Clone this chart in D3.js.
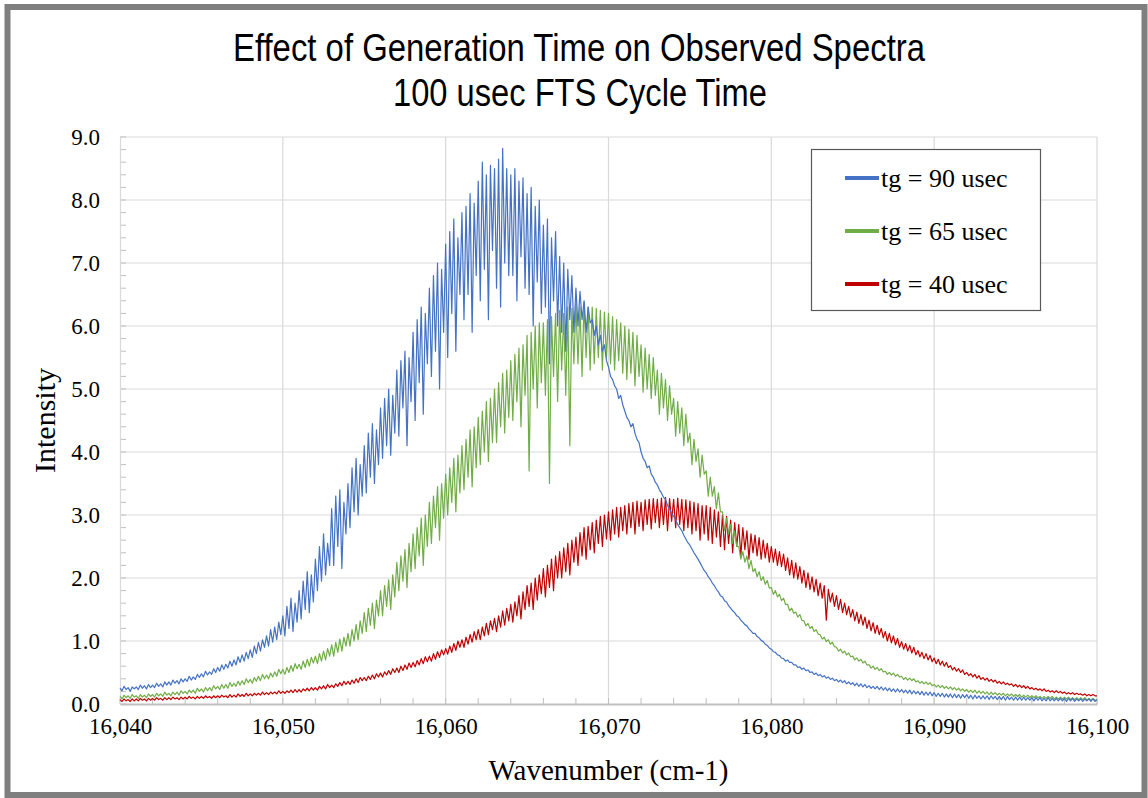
<!DOCTYPE html>
<html>
<head>
<meta charset="utf-8">
<script src="https://cdn.jsdelivr.net/npm/d3@7"></script>
<style>
  body { margin: 0; background: #fff; }
  svg { display: block; }
</style>
</head>
<body>
<script>
// wavenumber grid, 0.125 cm-1 steps from 16,040 to 16,100
var waveStart = 16040, waveStep = 0.125;
var xTicks = [16040, 16050, 16060, 16070, 16080, 16090, 16100];
var yTicks = [0, 1, 2, 3, 4, 5, 6, 7, 8, 9];
var seriesNames = ["tg = 90 usec", "tg = 65 usec", "tg = 40 usec"];
var seriesColors = ["#4472c4", "#70ad47", "#c00000"];

// tg = 90 usec, one row per cm-1
var blue = [
  .25,.21,.28,.23,.26,.20,.27,.24,
  .27,.23,.30,.25,.29,.24,.31,.26,
  .30,.26,.33,.28,.32,.27,.35,.30,
  .35,.30,.38,.33,.37,.32,.40,.35,
  .40,.36,.44,.38,.43,.39,.47,.42,
  .48,.43,.52,.46,.51,.47,.56,.50,
  .58,.52,.62,.55,.63,.57,.68,.60,
  .70,.62,.75,.66,.78,.68,.82,.72,
  .86,.74,.92,.80,.98,.84,1.02,.90,
  1.08,.92,1.18,.98,1.22,1.02,1.30,1.10,
  1.40,1.08,1.55,1.20,1.68,1.15,1.60,1.30,
  1.80,1.35,1.95,1.50,2.10,1.45,2.05,1.62,
  2.30,1.80,2.50,1.95,2.70,2.05,2.55,2.20,
  3.10,2.20,3.30,2.50,3.40,2.15,3.20,2.70,
  3.50,2.80,3.75,3.05,3.90,3.00,3.80,3.30,
  4.10,3.35,4.30,3.60,4.45,3.50,4.35,3.80,
  4.70,3.90,4.85,4.10,5.00,3.95,4.90,4.30,
  5.30,4.25,5.45,4.70,5.60,4.10,5.50,4.80,
  5.90,4.50,6.10,5.10,6.30,4.60,6.20,5.40,
  6.60,5.20,6.80,5.60,7.00,5.00,6.90,5.90,
  7.30,5.50,7.50,6.20,7.70,5.60,7.40,6.50,
  7.80,6.10,7.90,6.50,8.10,5.90,7.95,6.80,
  8.30,6.40,8.60,6.90,8.40,6.10,8.55,7.20,
  8.50,6.60,8.65,6.30,8.82,7.00,8.50,6.80,
  8.40,6.80,8.50,6.40,8.30,7.10,8.35,6.60,
  8.10,6.50,8.20,6.00,7.90,6.70,8.00,6.20,
  7.60,6.30,7.70,5.40,7.40,6.40,7.50,6.00,
  7.10,5.90,7.00,5.60,6.90,6.10,6.80,5.90,
  6.60,6.00,6.55,6.10,6.40,5.90,6.30,6.05,
  6.10,5.85,6.00,5.70,5.85,5.60,5.70,5.45,
  5.35,5.20,5.15,5.05,5.00,4.85,4.90,4.75,
  4.65,4.55,4.50,4.40,4.45,4.30,4.20,4.15,
  4.00,3.90,3.85,3.75,3.78,3.65,3.60,3.52,
  3.48,3.40,3.35,3.28,3.25,3.15,3.10,3.02,
  2.98,2.92,2.85,2.80,2.75,2.68,2.62,2.56,
  2.52,2.46,2.40,2.35,2.30,2.24,2.18,2.12,
  2.08,2.02,1.98,1.92,1.88,1.82,1.78,1.72,
  1.70,1.64,1.62,1.56,1.52,1.48,1.45,1.40,
  1.38,1.33,1.30,1.26,1.24,1.19,1.16,1.12,
  1.12,1.07,1.05,1.01,0.99,0.95,0.93,0.89,
  0.87,0.83,0.82,0.78,0.77,0.73,0.72,0.68,
  0.70,0.66,0.66,0.62,0.62,0.58,0.59,0.55,
  0.57,0.53,0.54,0.50,0.51,0.47,0.49,0.45,
  0.47,0.43,0.45,0.41,0.43,0.39,0.41,0.37,
  0.39,0.35,0.38,0.34,0.37,0.32,0.35,0.31,
  0.34,0.29,0.33,0.28,0.32,0.27,0.31,0.26,
  0.29,0.25,0.28,0.24,0.28,0.23,0.27,0.22,
  0.26,0.21,0.25,0.20,0.24,0.19,0.24,0.19,
  0.23,0.18,0.22,0.17,0.22,0.16,0.21,0.16,
  0.20,0.15,0.20,0.14,0.19,0.14,0.19,0.13,
  0.18,0.12,0.17,0.12,0.17,0.11,0.16,0.11,
  0.16,0.10,0.16,0.10,0.15,0.09,0.15,0.10,
  0.15,0.09,0.14,0.08,0.14,0.09,0.13,0.08,
  0.13,0.08,0.13,0.07,0.13,0.08,0.12,0.07,
  0.12,0.07,0.12,0.06,0.12,0.07,0.11,0.06,
  0.11,0.06,0.11,0.06,0.11,0.06,0.10,0.06,
  0.10,0.05,0.10,0.06,0.10,0.05,0.09,0.05,
  0.10,0.05,0.09,0.05,0.09,0.05,0.09,0.05,
  0.09,0.04,0.09,0.05,0.09,0.04,0.08,0.05,
  0.08,0.04,0.08,0.05,0.08,0.04,0.08,0.04,
  0.07
];

// tg = 65 usec
var green = [
  .12,.08,.14,.10,.13,.09,.15,.11,
  .13,.09,.15,.11,.14,.10,.16,.12,
  .15,.11,.17,.13,.16,.12,.19,.14,
  .17,.13,.19,.15,.19,.14,.21,.17,
  .20,.16,.22,.18,.22,.17,.25,.20,
  .24,.19,.26,.21,.26,.21,.29,.24,
  .28,.23,.31,.25,.31,.25,.34,.28,
  .33,.28,.36,.30,.37,.31,.40,.34,
  .39,.33,.42,.36,.44,.37,.47,.40,
  .46,.40,.49,.43,.51,.44,.55,.48,
  .55,.47,.58,.50,.61,.52,.64,.56,
  .63,.55,.68,.58,.71,.60,.74,.65,
  .76,.64,.80,.68,.84,.70,.88,.76,
  .94,.76,.98,.82,1.03,.84,1.06,.92,
  1.12,.92,1.18,1.00,1.26,1.02,1.32,1.12,
  1.45,1.15,1.52,1.25,1.60,1.20,1.65,1.40,
  1.80,1.40,1.88,1.55,1.97,1.50,2.05,1.70,
  2.25,1.80,2.35,1.95,2.45,1.85,2.55,2.10,
  2.70,2.15,2.80,2.35,2.95,2.20,3.00,2.50,
  3.20,2.55,3.30,2.80,3.45,2.60,3.50,2.95,
  3.65,3.00,3.75,3.20,3.90,3.05,3.95,3.35,
  4.10,3.40,4.20,3.60,4.35,3.45,4.40,3.75,
  4.55,3.80,4.65,4.00,4.80,3.85,4.85,4.15,
  5.00,4.15,5.10,4.40,5.25,4.30,5.30,4.55,
  5.45,4.50,5.55,4.80,5.65,4.40,5.70,4.90,
  5.85,3.70,5.90,5.00,6.00,4.70,6.05,5.10,
  6.05,4.90,6.10,3.50,6.15,5.20,6.20,4.80,
  6.25,5.30,6.20,4.90,6.30,4.10,6.28,5.40,
  6.35,5.40,6.30,5.20,6.38,5.50,6.30,5.30,
  6.30,5.40,6.28,5.50,6.25,5.30,6.22,5.50,
  6.20,5.40,6.15,5.30,6.10,5.45,6.05,5.25,
  6.00,5.15,5.95,5.25,5.90,5.05,5.85,5.20,
  5.70,4.95,5.65,5.00,5.55,4.85,5.50,4.90,
  5.30,4.60,5.25,4.70,5.15,4.50,5.05,4.60,
  4.85,4.25,4.80,4.30,4.70,4.10,4.60,4.15,
  4.30,3.80,4.20,3.85,4.05,3.60,3.95,3.65,
  3.70,3.30,3.60,3.30,3.45,3.10,3.35,3.05,
  3.05,2.75,2.95,2.70,2.85,2.55,2.75,2.50,
  2.50,2.30,2.42,2.25,2.35,2.15,2.28,2.10,
  2.15,2.02,2.10,1.96,2.02,1.90,1.96,1.84,
  1.85,1.74,1.80,1.70,1.74,1.64,1.68,1.58,
  1.58,1.48,1.52,1.44,1.46,1.38,1.42,1.33,
  1.32,1.24,1.28,1.20,1.23,1.15,1.18,1.11,
  1.10,1.03,1.06,0.99,1.02,0.95,0.98,0.91,
  0.90,0.84,0.87,0.81,0.84,0.78,0.81,0.75,
  0.76,0.70,0.73,0.68,0.71,0.65,0.68,0.62,
  0.62,0.57,0.60,0.55,0.58,0.53,0.56,0.51,
  0.52,0.47,0.50,0.46,0.49,0.44,0.47,0.43,
  0.44,0.39,0.42,0.38,0.41,0.37,0.40,0.35,
  0.37,0.33,0.36,0.32,0.35,0.31,0.34,0.29,
  0.31,0.27,0.30,0.26,0.29,0.25,0.28,0.24,
  0.27,0.23,0.26,0.22,0.25,0.21,0.24,0.20,
  0.23,0.19,0.22,0.18,0.22,0.17,0.21,0.17,
  0.20,0.16,0.19,0.15,0.19,0.15,0.18,0.14,
  0.17,0.14,0.17,0.13,0.16,0.13,0.16,0.12,
  0.15,0.12,0.15,0.11,0.14,0.11,0.14,0.10,
  0.13,0.10,0.13,0.10,0.12,0.09,0.12,0.09,
  0.12,0.09,0.12,0.08,0.11,0.08,0.11,0.08,
  0.11,0.08,0.11,0.07,0.10,0.07,0.10,0.07,
  0.10,0.07,0.10,0.06,0.09,0.06,0.09,0.06,
  0.06
];

// tg = 40 usec
var red = [
  .07,.04,.08,.05,.07,.04,.08,.05,
  .08,.05,.09,.06,.08,.05,.09,.06,
  .09,.06,.10,.07,.09,.06,.10,.07,
  .10,.07,.11,.08,.10,.07,.11,.08,
  .11,.08,.12,.09,.11,.08,.12,.09,
  .12,.09,.13,.10,.12,.09,.13,.10,
  .13,.10,.14,.11,.13,.10,.15,.11,
  .14,.11,.16,.12,.15,.12,.17,.13,
  .16,.13,.17,.14,.17,.14,.19,.15,
  .18,.15,.19,.16,.19,.16,.21,.17,
  .20,.17,.21,.18,.22,.18,.23,.19,
  .23,.19,.24,.21,.25,.21,.26,.22,
  .26,.22,.28,.24,.29,.24,.31,.26,
  .30,.26,.32,.28,.34,.29,.36,.31,
  .36,.31,.38,.33,.40,.34,.42,.37,
  .42,.37,.44,.39,.46,.40,.48,.43,
  .49,.43,.51,.46,.53,.47,.56,.50,
  .57,.50,.60,.53,.62,.55,.65,.58,
  .66,.59,.69,.62,.72,.64,.75,.67,
  .76,.68,.80,.71,.83,.74,.86,.78,
  .88,.79,.92,.82,.96,.85,1.00,.90,
  1.02,.90,1.06,.95,1.10,.98,1.15,1.02,
  1.18,1.02,1.22,1.08,1.28,1.10,1.32,1.18,
  1.36,1.15,1.40,1.22,1.48,1.25,1.52,1.32,
  1.58,1.30,1.62,1.40,1.72,1.35,1.78,1.50,
  1.88,1.55,1.92,1.50,2.00,1.65,2.05,1.75,
  2.15,1.70,2.20,1.85,2.30,1.80,2.35,2.00,
  2.42,2.00,2.48,2.10,2.55,2.05,2.60,2.25,
  2.65,2.20,2.72,2.35,2.80,2.30,2.82,2.45,
  2.88,2.40,2.92,2.55,2.98,2.50,3.00,2.62,
  3.05,2.60,3.08,2.70,3.12,2.65,3.12,2.75,
  3.15,2.70,3.18,2.80,3.20,2.70,3.22,2.82,
  3.20,2.75,3.24,2.85,3.25,2.78,3.26,2.88,
  3.25,2.80,3.27,2.85,3.28,2.75,3.26,2.90,
  3.25,2.80,3.27,2.85,3.25,2.75,3.24,2.80,
  3.22,2.70,3.20,2.75,3.18,2.60,3.15,2.70,
  3.15,2.60,3.12,2.55,3.08,2.65,3.05,2.50,
  3.00,2.45,2.98,2.55,2.92,2.40,2.88,2.50,
  2.85,2.35,2.80,2.45,2.75,2.30,2.70,2.40,
  2.68,2.35,2.64,2.30,2.60,2.32,2.55,2.25,
  2.50,2.25,2.46,2.20,2.42,2.18,2.38,2.12,
  2.32,2.05,2.28,2.00,2.24,1.98,2.18,1.92,
  2.12,1.85,2.08,1.82,2.02,1.78,1.98,1.72,
  1.92,1.68,1.88,1.33,1.82,1.62,1.76,1.55,
  1.72,1.50,1.66,1.45,1.60,1.42,1.55,1.38,
  1.50,1.32,1.46,1.28,1.42,1.25,1.38,1.20,
  1.33,1.16,1.29,1.12,1.25,1.10,1.20,1.05,
  1.15,1.00,1.12,0.97,1.08,0.94,1.04,0.90,
  0.99,0.87,0.96,0.84,0.93,0.81,0.90,0.78,
  0.85,0.75,0.82,0.72,0.80,0.70,0.77,0.67,
  0.73,0.64,0.71,0.62,0.68,0.60,0.66,0.58,
  0.61,0.54,0.58,0.52,0.56,0.50,0.54,0.47,
  0.50,0.45,0.48,0.43,0.47,0.41,0.45,0.39,
  0.42,0.38,0.41,0.36,0.39,0.35,0.38,0.33,
  0.36,0.32,0.35,0.31,0.33,0.30,0.32,0.28,
  0.31,0.27,0.30,0.26,0.29,0.25,0.28,0.24,
  0.26,0.23,0.25,0.22,0.24,0.21,0.24,0.20,
  0.22,0.19,0.21,0.18,0.21,0.18,0.20,0.17,
  0.19,0.16,0.18,0.16,0.18,0.15,0.17,0.15,
  0.16,0.14,0.16,0.13,0.15,0.13,0.15,0.13,
  0.13
];

var W = 1148, H = 798;
var margin = {top: 137, right: 51, bottom: 94, left: 120};
var width = W - margin.left - margin.right;
var height = H - margin.top - margin.bottom;

var svg = d3.select("body").append("svg")
    .attr("width", W)
    .attr("height", H);

svg.append("rect")
    .attr("x", 0).attr("y", 0).attr("width", W).attr("height", H)
    .style("fill", "#fff");

// outer frame
svg.append("rect")
    .attr("x", 7.5).attr("y", 7).attr("width", W - 11).attr("height", H - 10)
    .style("fill", "none")
    .style("stroke", "#7f7f7f")
    .style("stroke-width", 6);

var xScale = d3.scaleLinear().domain([16040, 16100]).range([0, width]);
var yScale = d3.scaleLinear().domain([0, 9]).range([height, 0]);

var g = svg.append("g")
    .attr("transform", "translate(" + margin.left + "," + margin.top + ")");

// gridlines
g.selectAll("line.hgrid")
    .data(yTicks.slice(1))
    .enter().append("line")
    .attr("class", "hgrid")
    .attr("x1", 0).attr("x2", width)
    .attr("y1", function(d){ return yScale(d); })
    .attr("y2", function(d){ return yScale(d); })
    .style("stroke", "#d9d9d9")
    .style("stroke-width", 1.2);

g.selectAll("line.vgrid")
    .data(xTicks.slice(1))
    .enter().append("line")
    .attr("class", "vgrid")
    .attr("y1", 0).attr("y2", height)
    .attr("x1", function(d){ return xScale(d); })
    .attr("x2", function(d){ return xScale(d); })
    .style("stroke", "#d9d9d9")
    .style("stroke-width", 1.2);

// minor ticks, inside the plot
var yMinor = d3.range(0, 9.01, 0.2);
g.selectAll("line.yminor")
    .data(yMinor)
    .enter().append("line")
    .attr("class", "yminor")
    .attr("x1", 0).attr("x2", 6)
    .attr("y1", function(d){ return yScale(d); })
    .attr("y2", function(d){ return yScale(d); })
    .style("stroke", "#bfbfbf");

var xMinor = d3.range(16040, 16100.01, 2);
g.selectAll("line.xminor")
    .data(xMinor)
    .enter().append("line")
    .attr("class", "xminor")
    .attr("y1", height).attr("y2", height - 6)
    .attr("x1", function(d){ return xScale(d); })
    .attr("x2", function(d){ return xScale(d); })
    .style("stroke", "#bfbfbf");

// axes
var serif = "'Liberation Serif', 'Times New Roman', serif";
var yAxis = d3.axisLeft(yScale)
    .tickValues(yTicks)
    .tickSize(0)
    .tickPadding(20)
    .tickFormat(d3.format(".1f"));
var yGuide = g.append("g").call(yAxis);
yGuide.select(".domain").style("stroke", "#d9d9d9").style("stroke-width", 1.2);
yGuide.selectAll("text")
    .style("font-family", serif)
    .style("font-size", "23px")
    .style("fill", "#000");

var xAxis = d3.axisBottom(xScale)
    .tickValues(xTicks)
    .tickSize(0)
    .tickPadding(14)
    .tickFormat(d3.format(","));
var xGuide = g.append("g")
    .attr("transform", "translate(0," + height + ")")
    .call(xAxis);
xGuide.select(".domain").style("stroke", "#bfbfbf").style("stroke-width", 2);
xGuide.selectAll("text")
    .style("font-family", serif)
    .style("font-size", "23px")
    .style("fill", "#000");

// series lines
var line = d3.line()
    .x(function(d, i){ return xScale(waveStart + i * waveStep); })
    .y(function(d){ return yScale(d); });

var allSeries = [blue, green, red];
[2, 1, 0].forEach(function(k){
  g.append("path")
      .datum(allSeries[k])
      .attr("d", line)
      .style("fill", "none")
      .style("stroke", seriesColors[k])
      .style("stroke-width", 1.2)
      .style("stroke-linejoin", "round");
});

// titles (condensed like Arial Narrow)
var titleFont = "'Liberation Sans Narrow', 'Arial Narrow', 'Liberation Sans', sans-serif";
svg.append("text")
    .attr("x", 233).attr("y", 61)
    .attr("textLength", 692)
    .attr("lengthAdjust", "spacingAndGlyphs")
    .style("font-family", titleFont)
    .style("font-size", "38px")
    .text("Effect of Generation Time on Observed Spectra");
svg.append("text")
    .attr("x", 393).attr("y", 106)
    .attr("textLength", 374)
    .attr("lengthAdjust", "spacingAndGlyphs")
    .style("font-family", titleFont)
    .style("font-size", "38px")
    .text("100 usec FTS Cycle Time");

svg.append("text")
    .attr("transform", "translate(55," + (margin.top + height / 2) + ") rotate(-90)")
    .attr("text-anchor", "middle")
    .style("font-family", serif)
    .style("font-size", "30px")
    .text("Intensity");

svg.append("text")
    .attr("x", margin.left + width / 2).attr("y", 780)
    .attr("text-anchor", "middle")
    .style("font-family", serif)
    .style("font-size", "29px")
    .text("Wavenumber (cm-1)");

// legend
var legend = svg.append("g");
legend.append("rect")
    .attr("x", 811.5).attr("y", 149.5).attr("width", 229).attr("height", 161)
    .style("fill", "#fff")
    .style("stroke", "#595959")
    .style("stroke-width", 1.2);

var items = legend.selectAll("g.item")
    .data(seriesNames)
    .enter().append("g")
    .attr("class", "item")
    .attr("transform", function(d, i){ return "translate(0," + (178 + i * 53) + ")"; });
items.append("line")
    .attr("x1", 845).attr("x2", 879)
    .attr("y1", 0).attr("y2", 0)
    .style("stroke", function(d, i){ return seriesColors[i]; })
    .style("stroke-width", 4);
items.append("text")
    .attr("x", 881).attr("y", 9)
    .style("font-family", serif)
    .style("font-size", "26px")
    .text(function(d){ return d; });
</script>
</body>
</html>
